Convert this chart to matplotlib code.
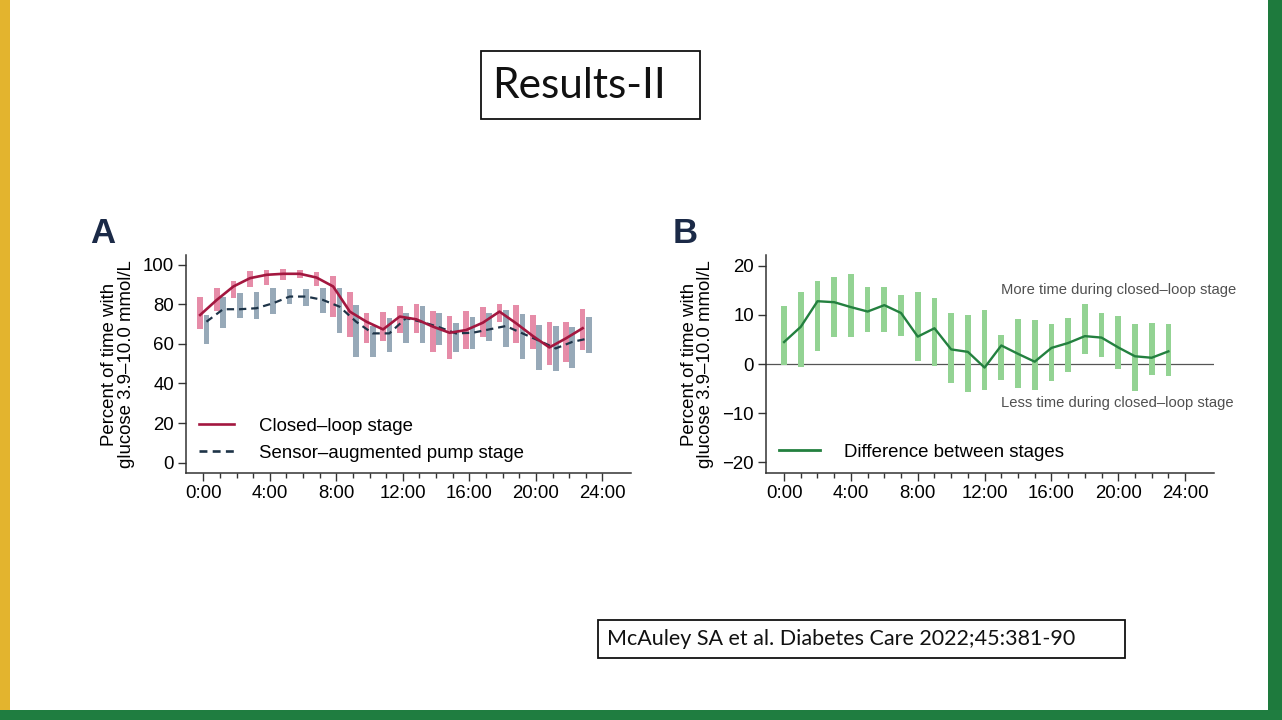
import matplotlib
matplotlib.use("Agg")
import matplotlib.pyplot as plt
from matplotlib.patches import Rectangle
from matplotlib.lines import Line2D
import numpy as np

# ---------------- data ----------------
hours = list(range(24))
tick_hours = [0, 4, 8, 12, 16, 20, 24]
tick_labels = ["0:00", "4:00", "8:00", "12:00", "16:00", "20:00", "24:00"]

cl_mean = [74.6, 82.2, 89.0, 93.2, 94.9, 95.4, 95.4, 93.5, 89.0, 76.3, 71.2, 67.3,
           73.8, 72.4, 68.7, 65.6, 67.0, 70.7, 76.3, 70.4, 64.0, 58.2, 62.8, 67.9]
cl_lo = [67.3, 76.8, 83.1, 88.7, 89.8, 92.4, 93.2, 89.0, 73.8, 63.3, 60.2, 61.6,
         65.3, 65.3, 56.0, 52.1, 57.2, 63.6, 71.2, 60.6, 57.2, 49.2, 50.9, 56.9]
cl_hi = [83.9, 88.2, 92.0, 96.6, 97.1, 97.8, 97.1, 96.1, 94.1, 86.4, 75.8, 76.3,
         79.2, 80.2, 76.8, 74.1, 76.8, 78.5, 80.2, 79.7, 74.6, 71.2, 71.2, 77.5]

sap_mean = [71.2, 77.5, 77.5, 78.0, 80.5, 83.9, 83.9, 82.2, 78.8, 71.2, 65.3, 65.3,
            73.0, 71.0, 68.4, 65.3, 65.6, 67.3, 69.0, 65.3, 61.6, 57.7, 61.0, 62.8]
sap_lo = [60.0, 67.9, 72.9, 72.4, 75.1, 80.2, 79.1, 75.8, 65.5, 53.5, 53.5, 56.0,
          60.6, 60.2, 59.4, 56.0, 57.2, 61.6, 58.5, 52.6, 47.0, 46.4, 48.0, 55.2]
sap_hi = [74.6, 83.9, 85.6, 86.4, 88.2, 87.7, 87.7, 88.2, 88.3, 79.7, 69.0, 72.9,
          75.8, 79.2, 75.5, 70.7, 73.8, 75.8, 77.2, 75.1, 69.5, 69.0, 68.7, 73.8]

diff_mean = [4.5, 7.6, 12.8, 12.6, 11.6, 10.7, 12.0, 10.4, 5.6, 7.3, 3.0, 2.5,
             -0.7, 3.8, 2.1, 0.5, 3.3, 4.3, 5.7, 5.4, 3.4, 1.6, 1.3, 2.6]
diff_lo = [-0.1, -0.6, 2.6, 5.6, 5.6, 6.5, 6.5, 5.8, 0.6, -0.4, -3.8, -5.7,
           -5.3, -3.3, -4.9, -5.3, -3.5, -1.5, 2.0, 1.4, -0.9, -5.5, -2.2, -2.4]
diff_hi = [11.9, 14.7, 17.0, 17.8, 18.3, 15.6, 15.7, 14.0, 14.6, 13.4, 10.5, 9.9,
           11.0, 5.9, 9.1, 8.9, 8.2, 9.3, 12.3, 10.5, 9.7, 8.2, 8.4, 8.2]

# ---------------- style ----------------
W, H = 1282, 720
plt.rcParams['font.family'] = ['Liberation Sans', 'DejaVu Sans']
fig = plt.figure(figsize=(W / 100, H / 100), dpi=100)
fig.patch.set_facecolor('white')

# overlay in pixel coordinates for slide decoration
ov = fig.add_axes([0, 0, 1, 1], zorder=-1)
ov.set_xlim(0, W)
ov.set_ylim(H, 0)
ov.axis('off')
ov.add_patch(Rectangle((0, 0), 10, 710, color='#e3b42e', lw=0))
ov.add_patch(Rectangle((1268, 0), 14, 720, color='#1e7a3d', lw=0))
ov.add_patch(Rectangle((0, 710), W, 10, color='#1f7d40', lw=0))
ov.add_patch(Rectangle((481, 51), 219, 68, fill=False, ec='#111111', lw=1.3))
ov.text(492, 86, "Results-II", family='Lato', fontsize=30.5, ha='left', va='center', color='#111111')
ov.add_patch(Rectangle((598, 620), 527, 38, fill=False, ec='#111111', lw=1.3))
ov.text(607, 639, "McAuley SA et al. Diabetes Care 2022;45:381-90", family='Lato', fontsize=15.5,
        ha='left', va='center', color='#111111')
ov.text(90, 243, "A", fontsize=25, fontweight='bold', color='#1b2a47', ha='left', va='baseline')
ov.text(673, 243, "B", fontsize=25, fontweight='bold', color='#1b2a47', ha='left', va='baseline')

PINK = '#e68ca8'
GREY = '#97a9b8'
CRIMSON = '#a3173f'
NAVY = '#1e3448'
LGREEN = '#93d393'
DGREEN = '#23803f'
FS = 13.4


def px_axes(l, r, t, b):
    return fig.add_axes([l / W, 1 - b / H, (r - l) / W, (b - t) / H])


def style_axes(ax):
    for s in ['top', 'right']:
        ax.spines[s].set_visible(False)
    for s in ['left', 'bottom']:
        ax.spines[s].set_color('#333333')
        ax.spines[s].set_linewidth(1.1)
    ax.set_xticks(tick_hours)
    ax.set_xticklabels(tick_labels)
    ax.set_xticks(list(range(25)), minor=True)
    ax.tick_params(axis='both', which='major', direction='out', length=5.5, width=1.0,
                   color='#333333', labelsize=FS, pad=3)
    ax.tick_params(axis='x', which='minor', direction='out', length=3.5, width=1.0, color='#333333')
    ax.tick_params(axis='y', which='minor', left=False)
    ax.set_ylabel("Percent of time with\nglucose 3.9\u201310.0 mmol/L", fontsize=FS,
                  linespacing=0.95, labelpad=6)


# ---------------- panel A ----------------
axA = px_axes(186, 630.7, 255, 473.3)
style_axes(axA)
off = 0.19
bw = 0.34
hx = np.array(hours, dtype=float)
axA.bar(hx - off, np.array(cl_hi) - np.array(cl_lo), bottom=cl_lo, width=bw,
        color=PINK, lw=0, zorder=2)
axA.bar(hx + off, np.array(sap_hi) - np.array(sap_lo), bottom=sap_lo, width=bw,
        color=GREY, lw=0, zorder=2)
axA.plot(hx + off, sap_mean, color=NAVY, lw=1.6, dashes=(3.3, 2.2), zorder=3)
axA.plot(hx - off, cl_mean, color=CRIMSON, lw=1.9, zorder=4)
axA.set_xlim(-1.04, 25.7)
axA.set_ylim(-5.4, 104.9)
axA.set_yticks([0, 20, 40, 60, 80, 100])
hA = [Line2D([], [], color=CRIMSON, lw=1.9),
      Line2D([], [], color=NAVY, lw=1.9, dashes=(3.0, 2.0))]
axA.legend(hA, ["Closed\u2013loop stage", "Sensor\u2013augmented pump stage"],
           loc='upper left', bbox_to_anchor=(0.0, 0.315), frameon=False, fontsize=FS,
           handlelength=1.9, handletextpad=1.3, labelspacing=0.55, borderaxespad=0.3)

# ---------------- panel B ----------------
axB = px_axes(765.7, 1214, 255, 473.3)
style_axes(axB)
axB.axhline(0, color='#555555', lw=0.9, zorder=1)
axB.bar(hx, np.array(diff_hi) - np.array(diff_lo), bottom=diff_lo, width=0.34,
        color=LGREEN, lw=0, zorder=2)
axB.plot(hx, diff_mean, color=DGREEN, lw=1.7, zorder=3)
axB.set_xlim(-1.1, 25.73)
axB.set_ylim(-22.2, 22.2)
axB.set_yticks([-20, -10, 0, 10, 20])
axB.text(27.05, 15.1, "More time during closed\u2013loop stage", fontsize=10.6,
         color='#505050', ha='right', va='center', clip_on=False)
axB.text(26.93, -7.9, "Less time during closed\u2013loop stage", fontsize=10.6,
         color='#505050', ha='right', va='center', clip_on=False)
hB = [Line2D([], [], color=DGREEN, lw=2.0)]
axB.legend(hB, ["Difference between stages"], loc='upper left', bbox_to_anchor=(0.0, 0.195),
           frameon=False, fontsize=FS, handlelength=2.2, handletextpad=1.3, borderaxespad=0.3)

fig.savefig("out.png", dpi=100, facecolor='white')
